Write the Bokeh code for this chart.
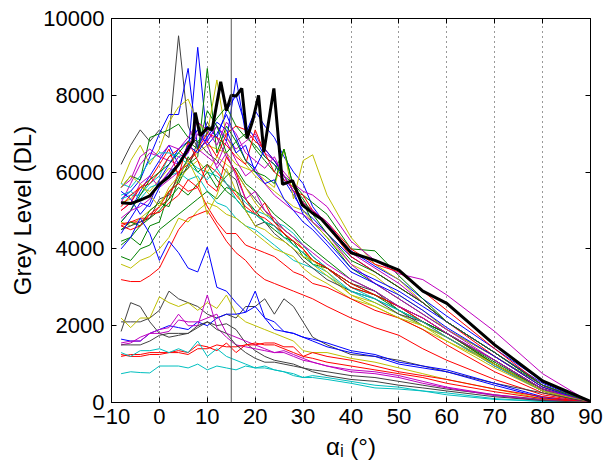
from bokeh.plotting import figure
from bokeh.models import Range1d, FixedTicker, LinearAxis, Span, CustomJSTickFormatter
from bokeh.embed import file_html
from bokeh.resources import INLINE

# incidence angle grid (degrees) shared by the thin curves
angle = [-8, -6, -4, -2, 0, 2, 4, 6, 8, 10, 12, 14, 16, 18, 20, 22, 24, 26, 28, 30,
         32, 35, 40, 45, 50, 55, 60, 70, 80, 90]

# highlighted (thick black) curve
angle_ref = [-8, -6, -4, -2, 0, 2, 4, 6, 7, 7.5, 8.5, 10, 11, 12.8, 14, 15, 16, 17.2, 18.3,
             19.5, 20.7, 21.8, 23.9, 25.7, 27.8, 29.8, 31.8, 33.8, 40, 45, 50, 55, 60, 70, 80, 90]
grey_ref = [5200, 5180, 5270, 5380, 5680, 5880, 6200, 6600, 6800, 7550, 6950, 7150, 7100, 8350,
            7600, 8000, 7980, 8180, 6880, 7350, 8000, 6520, 8180, 5680, 5780, 5150, 4950, 4780,
            3900, 3700, 3450, 2900, 2580, 1500, 560, 30]

# high-level curves
h01 = [6200, 6700, 7100, 6800, 7100, 6900, 9550, 7200, 6600, 7300, 6900, 6400, 6000, 5600, 5300, 5000, 4700, 4500, 4300, 4100, 3800, 3500, 3100, 2900, 2400, 2000, 1700, 1000, 350, 0]
h02 = [5300, 5500, 5800, 6400, 7000, 7500, 7500, 8700, 6600, 7200, 6900, 7600, 8000, 7200, 6900, 6400, 6200, 5800, 5400, 5000, 4800, 4400, 3800, 3400, 3000, 2600, 2100, 1300, 500, 0]
h03 = [4700, 5000, 5500, 5900, 6300, 6700, 6200, 6500, 9250, 6800, 7200, 6800, 8450, 7000, 7600, 7200, 6900, 6400, 6000, 5700, 5100, 4600, 3950, 3550, 3200, 2700, 2250, 1400, 550, 0]
h04 = [4200, 4300, 4100, 4600, 4700, 5500, 5700, 6200, 6400, 8700, 6500, 7200, 6800, 7000, 6600, 6300, 6000, 6600, 5600, 5200, 4700, 4300, 3500, 3100, 2700, 2300, 1900, 1200, 450, 0]
h05 = [5700, 6300, 6700, 6200, 6600, 7300, 7700, 7900, 7300, 7000, 8400, 6900, 6500, 6200, 5900, 5700, 5500, 5300, 5100, 5000, 4700, 4300, 3600, 3300, 2800, 2400, 1900, 1200, 400, 0]
h06 = [5200, 5300, 5600, 5500, 5800, 6100, 6000, 6300, 6500, 6700, 6600, 6500, 6200, 6100, 6000, 5800, 5600, 6600, 5300, 6300, 6450, 5400, 4300, 3600, 3200, 2600, 2100, 1300, 450, 0]
h07 = [5600, 5900, 5800, 6900, 7000, 7100, 7250, 6900, 6800, 7000, 7400, 7700, 7200, 6900, 6700, 6400, 6200, 5900, 5700, 5400, 5200, 4900, 4000, 3950, 3300, 2700, 2100, 1300, 450, 0]
h08 = [5200, 5700, 6200, 6500, 6400, 6300, 6200, 6700, 7100, 6800, 7200, 6900, 6600, 6800, 7000, 6500, 6300, 6000, 5700, 5500, 5400, 5100, 4200, 3700, 3350, 3200, 2800, 1850, 750, 0]
h09 = [4600, 4700, 4800, 4800, 5100, 5300, 6000, 6200, 6600, 6800, 6400, 7000, 7200, 7100, 6800, 6600, 6300, 5900, 5500, 5400, 5000, 4700, 4000, 3600, 3400, 2900, 2400, 1400, 450, 0]
h10 = [5300, 5400, 5400, 5700, 5900, 6400, 6500, 6300, 6100, 6000, 5900, 5700, 5500, 5200, 5000, 4900, 4700, 4600, 4400, 4100, 3800, 3500, 3000, 2700, 2400, 2100, 1800, 1000, 300, 0]
h11 = [5400, 5500, 5300, 5600, 5700, 5900, 6000, 5800, 5900, 5500, 5200, 5100, 4800, 4600, 4500, 4300, 4100, 3900, 3700, 3600, 3500, 3300, 2900, 2600, 2300, 2000, 1700, 1000, 300, 0]
h12 = [5000, 5200, 5700, 5900, 5600, 5800, 6000, 6300, 6600, 6400, 6200, 6800, 6300, 5900, 6100, 5700, 5400, 5200, 5000, 4900, 4700, 4400, 3600, 3100, 2700, 2300, 1900, 1100, 350, 0]
h13 = [5000, 5200, 5600, 5700, 6000, 6400, 6600, 6300, 6600, 7000, 6900, 6700, 6400, 6200, 7100, 6500, 6000, 5800, 5600, 5200, 5000, 4600, 3800, 3400, 3000, 2600, 2100, 1200, 400, 0]
h14 = [3800, 3700, 4000, 4100, 4500, 4700, 4900, 5100, 5300, 5500, 5300, 5600, 5500, 5300, 5000, 4700, 4600, 4400, 4100, 3900, 3700, 3500, 3000, 2800, 2400, 2100, 1800, 1100, 350, 0]
h15 = [4100, 4300, 4600, 4800, 5000, 5300, 5600, 5400, 5700, 6000, 5600, 5900, 6100, 5700, 5500, 5200, 4900, 4700, 4500, 4200, 4000, 3700, 3200, 2900, 2500, 2200, 1800, 1050, 350, 0]
h16 = [3600, 3500, 3700, 3800, 4000, 4300, 4800, 4700, 5000, 5200, 5100, 4900, 4800, 4600, 4400, 4200, 4000, 3900, 3800, 3500, 3300, 3100, 2700, 2500, 2200, 1900, 1600, 900, 300, 0]
h17 = [4700, 4600, 4800, 5000, 5200, 5500, 5800, 6100, 6300, 6000, 6400, 6200, 6000, 5600, 5200, 4900, 4800, 4500, 4300, 4000, 3600, 3300, 2800, 2600, 2300, 2000, 1700, 1000, 300, 0]
h18 = [5500, 5300, 4900, 5200, 5800, 6200, 6600, 6800, 7100, 6700, 7000, 7500, 6900, 6300, 6100, 6600, 6300, 5900, 5500, 4900, 4600, 4200, 3500, 3200, 2900, 2500, 2100, 1300, 450, 0]
h19 = [4650, 4700, 4700, 4900, 4950, 5200, 5400, 5800, 5600, 6200, 6000, 5700, 5400, 5100, 4900, 4800, 4600, 4400, 4200, 4000, 3700, 3500, 3000, 2800, 2500, 2200, 1800, 1000, 300, 0]
h20 = [4500, 4600, 4700, 4800, 5300, 5400, 5900, 6100, 6800, 6500, 6300, 6000, 5800, 5000, 4600, 4700, 4400, 4200, 4000, 3700, 3500, 3200, 2900, 2700, 2300, 2100, 1800, 1100, 350, 0]
h21 = [4500, 4700, 4600, 5000, 5200, 5100, 5800, 6400, 6000, 6200, 5800, 5500, 5300, 5000, 4900, 4700, 4500, 4300, 4200, 3800, 3600, 3500, 3100, 2800, 2500, 2100, 1800, 1000, 300, 0]
h22 = [5600, 5800, 6400, 6600, 6400, 6700, 6600, 6900, 7300, 7100, 6700, 7300, 7000, 6500, 6300, 6100, 6400, 5900, 5500, 5200, 5000, 4700, 3900, 3500, 3100, 2600, 2100, 1300, 450, 0]
h23 = [5100, 5400, 5600, 5800, 6200, 6600, 5900, 6800, 6300, 5700, 5500, 6400, 6000, 5300, 4900, 5200, 4700, 4400, 4200, 4000, 3700, 3500, 3100, 2800, 2500, 2100, 1700, 950, 300, 0]
h24 = [5700, 5600, 5900, 6300, 6500, 6500, 6400, 6200, 6000, 5800, 6100, 5700, 5300, 5000, 4900, 4700, 4600, 4300, 4100, 3900, 3600, 3400, 2900, 2700, 2400, 2100, 1700, 950, 300, 0]
h25 = [4600, 4500, 4600, 4900, 5100, 5500, 5700, 5500, 5600, 5100, 4700, 4400, 4400, 4100, 4000, 3900, 3800, 3600, 3400, 3300, 3100, 3000, 2700, 2400, 2200, 1900, 1500, 800, 250, 0]
h26 = [3200, 3150, 3150, 3300, 3500, 4000, 4500, 4800, 4900, 5000, 4600, 4200, 3900, 3700, 3400, 3200, 3100, 3000, 2900, 2800, 2700, 2500, 2200, 1950, 1750, 1400, 1100, 600, 200, 0]
h27 = [4400, 4800, 5200, 5100, 5600, 6000, 6200, 6700, 6500, 6900, 7300, 7100, 6500, 6700, 6000, 5700, 5800, 5300, 5000, 4700, 4500, 4100, 3400, 3100, 2800, 2400, 1950, 1200, 400, 0]
h28 = [4700, 5000, 5400, 5800, 6000, 6200, 6500, 6800, 6600, 7600, 7200, 6500, 6800, 6300, 6000, 5900, 5700, 6600, 5600, 5300, 4900, 4400, 3700, 3400, 3000, 2600, 2100, 1300, 450, 0]
h29 = [4800, 5000, 5100, 5300, 5700, 6000, 6400, 6500, 7000, 6700, 6100, 6500, 5900, 5300, 5500, 5000, 4800, 4500, 4300, 4100, 3900, 3600, 3200, 2900, 2500, 2200, 1800, 1100, 350, 0]
h30 = [5600, 5900, 5700, 5400, 5100, 5600, 5900, 6300, 5800, 4900, 5400, 6100, 5500, 5000, 4600, 4500, 4300, 4200, 4000, 3800, 3700, 3400, 2800, 2500, 2200, 2000, 1600, 1000, 300, 0]

# low-level curves
l01 = [2100, 2100, 2100, 2200, 2400, 2900, 2700, 2600, 2500, 2300, 2200, 2300, 2200, 2500, 2500, 2700, 2300, 2700, 2500, 2100, 1700, 1500, 1250, 1200, 1100, 950, 800, 500, 250, 0]
l02 = [1850, 2600, 2500, 2100, 1800, 1700, 1750, 1800, 1950, 2100, 2000, 2050, 1900, 1550, 1350, 1200, 1100, 1050, 1000, 900, 850, 800, 700, 650, 550, 450, 350, 200, 80, 0]
l03 = [2200, 1950, 2200, 2200, 2750, 2600, 2500, 2600, 2400, 2600, 2450, 2800, 2300, 2100, 2000, 1900, 1800, 1700, 1600, 1350, 1300, 1300, 1150, 1050, 900, 750, 600, 350, 100, 0]
l04 = [1650, 1600, 1600, 1800, 1900, 2000, 1950, 1900, 2100, 2000, 2200, 2300, 2300, 2350, 2500, 2200, 1900, 1850, 1800, 1700, 1650, 1550, 1350, 1250, 1050, 950, 850, 500, 150, 0]
l05 = [4000, 4300, 4800, 4400, 3700, 4200, 3900, 3500, 3400, 4050, 3000, 2900, 2600, 2350, 2900, 2200, 2100, 1850, 1800, 1700, 1600, 1450, 1300, 1200, 1000, 900, 800, 450, 120, 0]
l06 = [1500, 1550, 1700, 1800, 1900, 1950, 2300, 2000, 2000, 2800, 1950, 1700, 1500, 1450, 1400, 1350, 1300, 1300, 1200, 1100, 1050, 950, 850, 800, 700, 550, 400, 200, 60, 0]
l07 = [1550, 1600, 1600, 1800, 1800, 1850, 2150, 2100, 2100, 2200, 2300, 1800, 1700, 1600, 1500, 1400, 1300, 1350, 1250, 1150, 1050, 950, 800, 750, 650, 500, 380, 180, 50, 0]
l08 = [1200, 1250, 1250, 1300, 1300, 1300, 1350, 1300, 1500, 1450, 1350, 1550, 1300, 1500, 1500, 1550, 1550, 1450, 1450, 1200, 1300, 1200, 1100, 950, 800, 700, 600, 350, 150, 0]
l09 = [1250, 1200, 1200, 1250, 1250, 1300, 1300, 1250, 1400, 1400, 1500, 1450, 1450, 1500, 1550, 1500, 1500, 1400, 1300, 1200, 1150, 1050, 950, 850, 750, 650, 500, 280, 100, 0]
l10 = [1300, 1200, 1350, 1350, 1400, 1300, 1400, 1300, 1600, 1200, 1400, 1200, 1100, 1000, 900, 950, 850, 800, 750, 650, 700, 650, 550, 450, 400, 300, 250, 100, 30, 0]
l11 = [750, 800, 780, 770, 950, 950, 950, 900, 1000, 850, 950, 900, 850, 950, 900, 900, 850, 800, 700, 650, 650, 600, 500, 380, 350, 300, 200, 80, 30, 0]
l12 = [1500, 1500, 1500, 1600, 1750, 1800, 1800, 1800, 2000, 2100, 1900, 1800, 1500, 1300, 1150, 1050, 1050, 1000, 950, 900, 800, 700, 600, 550, 450, 380, 300, 150, 50, 0]

B, G, R, C, M, Y, K = "#0000ff", "#008000", "#ff0000", "#00bfbf", "#bf00bf", "#bfbf00", "#404040"
curves = [
    (h01, K), (h02, B), (h03, B), (h04, G), (h05, Y), (h06, Y), (h07, G), (h08, M),
    (h09, R), (h10, C), (h11, C), (h12, M), (h13, R), (h14, G), (h15, G), (h16, Y),
    (h17, Y), (h18, B), (h19, R), (h20, K), (h21, G), (h22, M), (h23, R), (h24, C),
    (h25, R), (h26, R), (h27, B), (h28, G), (h29, M), (h30, Y),
    (l01, K), (l02, K), (l03, Y), (l04, B), (l05, B), (l06, M), (l07, M), (l08, R),
    (l09, R), (l10, C), (l11, C), (l12, K),
]

x_ticks = [-10, 0, 10, 20, 30, 40, 50, 60, 70, 80, 90]
y_ticks = [0, 2000, 4000, 6000, 8000, 10000]
FONT = "Liberation Sans"

p = figure(width=603, height=462, x_range=Range1d(-10, 90), y_range=Range1d(0, 10000),
           output_backend="svg", toolbar_location=None)
p.min_border_left = 111
p.min_border_right = 13
p.min_border_top = 18
p.min_border_bottom = 60
p.background_fill_color = "white"
p.border_fill_color = "white"
p.outline_line_color = "black"
p.outline_line_width = 1

for vals, col in curves:
    p.line(angle, vals, line_color=col, line_width=1)
p.line(angle_ref, grey_ref, line_color="black", line_width=3)

p.add_layout(Span(location=15, dimension="height", line_color="#555555", line_width=1))

# grid: dotted vertical lines only
p.xgrid.ticker = FixedTicker(ticks=[0, 10, 20, 30, 40, 50, 60, 70, 80])
p.xgrid.grid_line_color = "#333333"
p.xgrid.grid_line_dash = "1 4"
p.xgrid.grid_line_width = 1
p.ygrid.grid_line_color = None

for ax in (p.xaxis[0], p.yaxis[0]):
    ax.major_tick_in = 5
    ax.major_tick_out = 0
    ax.minor_tick_line_color = None
    ax.axis_line_color = "black"
    ax.major_tick_line_color = "black"
    ax.major_label_text_font = FONT
    ax.major_label_text_font_size = "22px"
    ax.major_label_text_color = "black"
    ax.axis_label_text_font = FONT
    ax.axis_label_text_font_size = "24px"
    ax.axis_label_text_font_style = "normal"
    ax.axis_label_text_color = "black"

p.xaxis[0].ticker = FixedTicker(ticks=x_ticks)
p.xaxis[0].major_label_overrides = {-10: "\u221210"}
p.xaxis[0].major_label_standoff = 6
p.xaxis[0].axis_label = "\u03b1\u1d62 (\u00b0)"
p.xaxis[0].axis_label_standoff = 6
p.yaxis[0].ticker = FixedTicker(ticks=y_ticks)
p.yaxis[0].major_label_standoff = 7
p.yaxis[0].axis_label = "Grey Level (DL)"
p.yaxis[0].axis_label_standoff = 4

blank = CustomJSTickFormatter(code="return ''")
right = LinearAxis(ticker=FixedTicker(ticks=y_ticks), formatter=blank, major_tick_in=5,
                   major_tick_out=0, minor_tick_line_color=None, major_label_standoff=0)
top = LinearAxis(ticker=FixedTicker(ticks=x_ticks), formatter=blank, major_tick_in=5,
                 major_tick_out=0, minor_tick_line_color=None, major_label_standoff=0)
p.add_layout(right, "right")
p.add_layout(top, "above")

open("out.html", "w").write(file_html(p, INLINE))
